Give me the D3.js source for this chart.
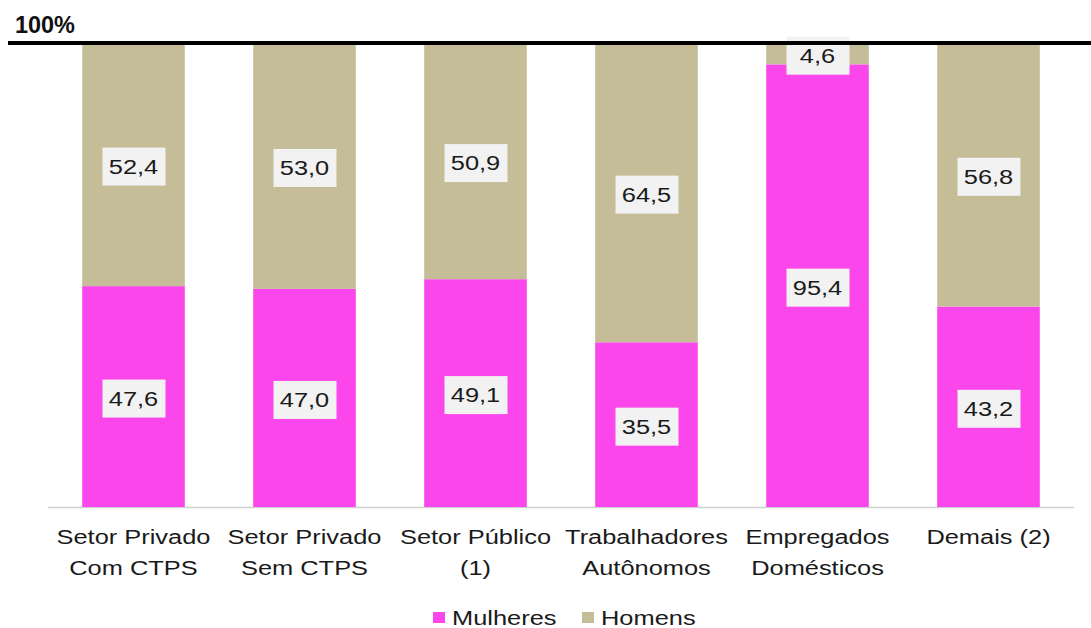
<!DOCTYPE html>
<html>
<head>
<meta charset="utf-8">
<script src="https://cdn.jsdelivr.net/npm/d3@7"></script>
<style>
  body { margin: 0; background: #fff; }
  svg { display: block; font-family: "Liberation Sans", Arial, sans-serif; }
</style>
</head>
<body>
<div id="chart"></div>
<script>
const categories = [
  ['Setor Privado', 'Com CTPS'],
  ['Setor Privado', 'Sem CTPS'],
  ['Setor Público', '(1)'],
  ['Trabalhadores', 'Autônomos'],
  ['Empregados', 'Domésticos'],
  ['Demais (2)']
];
const mulheres = [47.6, 47.0, 49.1, 35.5, 95.4, 43.2];
const homens = [52.4, 53.0, 50.9, 64.5, 4.6, 56.8];
const seriesNames = ['Mulheres', 'Homens'];
const colors = ['#fb46ec', '#c4bd97'];

const width = 1091, height = 628;
const margin = { top: 43, right: 17, bottom: 121, left: 48 };
const innerW = width - margin.left - margin.right;
const innerH = height - margin.top - margin.bottom;
const stretch = 1.27; // text in the picture is horizontally stretched

const svg = d3.select('#chart').append('svg')
  .attr('width', width).attr('height', height);
const g = svg.append('g').attr('transform', `translate(${margin.left},${margin.top})`);

const x = d3.scaleBand().domain(d3.range(categories.length)).range([0, innerW]).paddingInner(0.4).paddingOuter(0.2);
const y = d3.scaleLinear().domain([0, 100]).range([innerH, 0]);

const rows = categories.map((c, i) => ({ i, Mulheres: mulheres[i], Homens: homens[i] }));
const stacked = d3.stack().keys(seriesNames)(rows);

// stretched text helper
function label(parent, tx, ty, str, anchor, sx) {
  return parent.append('text')
    .attr('transform', `translate(${tx},${ty}) scale(${sx || stretch},1)`)
    .attr('text-anchor', anchor || 'middle')
    .attr('font-size', 20).attr('fill', '#1a1a1a')
    .text(str);
}

// axis baseline
g.append('line').attr('x1', 0).attr('x2', innerW).attr('y1', y(0) + 0.5).attr('y2', y(0) + 0.5)
  .attr('stroke', '#d0d0d0').attr('stroke-width', 1.5);

stacked.forEach((s, si) => {
  g.selectAll('.bar' + si).data(s).enter().append('rect')
    .attr('x', d => x(d.data.i))
    .attr('y', d => y(d[1]))
    .attr('width', x.bandwidth())
    .attr('height', d => y(d[0]) - y(d[1]))
    .attr('fill', colors[si]);
});

// value labels
stacked.forEach((s, si) => {
  s.forEach(d => {
    const cx = x(d.data.i) + x.bandwidth() / 2;
    const cy = (y(d[0]) + y(d[1])) / 2 + 2;
    const txt = d3.format('.1f')(d[1] - d[0]).replace('.', ',');
    g.append('rect').attr('x', cx - 31).attr('y', cy - 19).attr('width', 63).attr('height', 38).attr('fill', '#f2f2f2');
    label(g, cx, cy + 7, txt);
  });
});

// 100% line
svg.append('line').attr('x1', 8).attr('x2', width).attr('y1', margin.top).attr('y2', margin.top)
  .attr('stroke', '#000').attr('stroke-width', 4);
label(svg, 15, 33, '100%', 'start', 1.02).attr('font-size', 23).attr('font-weight', 'bold').attr('fill', '#111');

// category labels
categories.forEach((lines, i) => {
  const cx = margin.left + x(i) + x.bandwidth() / 2;
  lines.forEach((l, k) => label(svg, cx, margin.top + innerH + 37 + k * 31, l));
});

// legend
const legendPos = [433, 582];
seriesNames.forEach((n, i) => {
  svg.append('rect').attr('x', legendPos[i]).attr('y', 612).attr('width', 12).attr('height', 11).attr('fill', colors[i]);
  label(svg, legendPos[i] + 19, 625, n, 'start');
});
</script>
</body>
</html>
